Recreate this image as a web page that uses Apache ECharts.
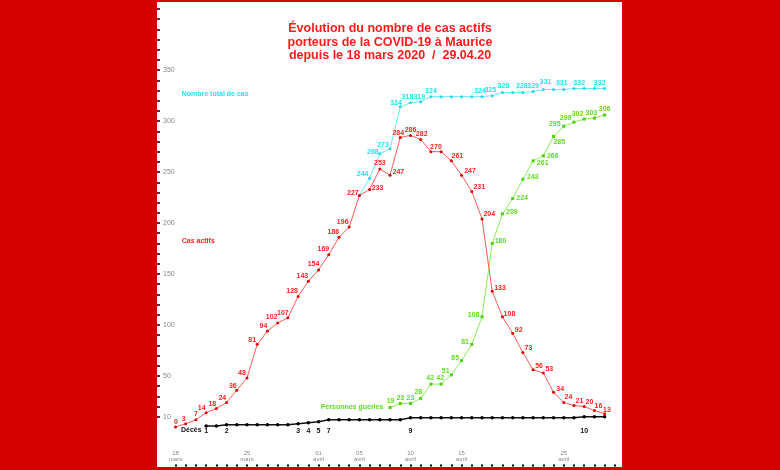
<!DOCTYPE html>
<html><head><meta charset="utf-8">
<script src="https://cdn.jsdelivr.net/npm/echarts@6/dist/echarts.min.js"></script>
<style>
html,body{margin:0;padding:0;background:#d40000;width:780px;height:470px;overflow:hidden}
#panel{position:absolute;left:157px;top:2px;width:465px;height:465px;background:#fff}
#chart{position:absolute;left:0;top:0;width:780px;height:470px}
</style></head><body>
<div id="panel"></div><div id="chart"></div>
<script>
// x = day index counted from 18 mars 2020
const xTickIdx = [0, 7, 14, 18, 23, 28, 38];
const xTickText = ['18\nmars', '25\nmars', '01\navril', '05\navril', '10\navril', '15\navril', '25\navril'];
const yTickLabels = [10, 50, 100, 150, 200, 250, 300, 350];

const activeStart = 0;
const activeCases = [0,3,7,14,18,24,36,48,81,94,102,107,128,143,154,169,186,196,227,233,253,247,284,286,282,270,270,261,247,231,204,133,108,92,73,56,53,34,24,21,20,16,13];

const totalStart = 18;
const totalCases = [227,244,268,273,314,318,319,324,324,324,324,324,324,325,328,328,328,329,331,331,331,332,332,332,332];

const recoveredStart = 21;
const recovered = [19,23,23,28,42,42,51,65,81,108,180,209,224,243,261,266,285,295,299,302,303,306];

const deathsStart = 3;
const deaths = [1,1,2,2,2,2,2,2,2,3,4,5,7,7,7,7,7,7,7,7,9,9,9,9,9,9,9,9,9,9,9,9,9,9,9,9,9,10,10,10];
const deathLabelDays = [3,5,12,13,14,15,23,40];

// label placement (style): day index -> [dx, dy] of label centre from the point
const activeLabelPos = {0:[0.5,-5],1:[-2,-4.5],2:[0,-5.5],3:[-4.5,-4.5],4:[-4,-4.7],5:[-4.3,-4.7],6:[-4,-4.5],7:[-5,-5],8:[-5,-4.5],9:[-4,-5],10:[-6,-5.5],11:[-5,-4.5],12:[-6,-5.5],13:[-6,-4.7],14:[-5,-5.5],15:[-5.4,-5.5],16:[-5.6,-5],17:[-6.5,-5],18:[-6.5,-2.5],19:[8,-1],20:[0,-6],21:[8.3,-3.3],22:[-2,-4.6],23:[0,-5.7],24:[1,-5.3],25:[5,-5],27:[6,-4.7],28:[8.4,-4.3],29:[7.5,-4],30:[7.3,-4.7],31:[7.8,-3.3],32:[7,-2.3],33:[6,-3.3],34:[5.5,-4],35:[6,-4],36:[6,-3.4],37:[6.6,-3.3],38:[4.7,-5],39:[5.5,-4.7],40:[5.3,-4.4],41:[4,-4.3],42:[2.3,-3.3]};
const totalLabelPos = {19:[-7,-3.7],20:[-7,-1.5],21:[-7,-3.3],22:[-4.3,-4],23:[-3,-5.4],24:[-1.4,-5],25:[0,-6],30:[-2,-5.7],31:[-2,-6],32:[1,-6.5],34:[-1,-6.5],35:[0,-5.7],36:[2,-7],38:[-2,-6.6],40:[-5,-5.7],42:[-5,-5.7]};
const recoveredLabelPos = {21:[0.5,-6],22:[0,-5.7],23:[0,-5.7],24:[-2.4,-6],25:[-0.7,-5.7],26:[-1,-5.7],27:[-5.7,-3.6],28:[-6.4,-2.3],29:[-6.7,-2.6],30:[-8.4,-1.7],31:[8.3,-2.3],32:[9.4,-2.3],33:[9.4,-1],34:[10,-1.7],35:[9.6,2.3],36:[9.4,0],37:[5.7,5.7],38:[-9,-2],39:[-8.3,-3.6],40:[-6.7,-4.7],41:[-3,-5.4],42:[0,-5.7]};

const FONT = '"Liberation Sans", Arial, sans-serif';

function build(start, values, labelFor) {
  return values.map((v, i) => {
    const d = start + i;
    const off = labelFor(d, v);
    return { value: [d, v], label: off ? { show: true, offset: off } : { show: false } };
  });
}

function lineSeries(name, data, lineColor, labelColor, symbolColor, symbol, size, width) {
  return {
    name, type: 'line', data, clip: false,
    symbol, symbolSize: size, showAllSymbol: true,
    lineStyle: { color: lineColor, width },
    itemStyle: { color: symbolColor },
    label: { show: false, position: 'inside', formatter: p => p.value[1], color: labelColor,
      fontSize: 7, fontWeight: 'bold', fontFamily: FONT, align: 'center', verticalAlign: 'middle' },
    emphasis: { disabled: true }
  };
}

const days = [];
for (let d = 0; d <= 43; d++) days.push(d);
const yTicks = [];
for (let v = 10; v <= 410; v += 10) yTicks.push(v);

const chart = echarts.init(document.getElementById('chart'), null, { renderer: 'canvas' });
chart.setOption({
  animation: false,
  backgroundColor: 'transparent',
  title: {
    text: 'Évolution du nombre de cas actifs\nporteurs de la COVID-19 à Maurice\ndepuis le 18 mars 2020  /  29.04.20',
    left: 'center', top: 17,
    textStyle: { fontSize: 12.5, fontWeight: 'bold', color: '#ff1a1a', lineHeight: 13.5, fontFamily: FONT }
  },
  grid: { left: 157, right: 158, top: 3.9, bottom: 43.1, containLabel: false },
  xAxis: {
    type: 'value', min: -1.81, max: 43.70, offset: 39.5,
    axisLine: { show: false, onZero: false }, splitLine: { show: false },
    axisTick: { show: true, inside: true, length: 2, customValues: days, lineStyle: { color: '#000', width: 2 } },
    axisLabel: { show: true, inside: true, margin: 4, customValues: xTickIdx,
      formatter: v => xTickText[xTickIdx.indexOf(v)] || '',
      fontSize: 6, lineHeight: 6, color: '#888', fontFamily: FONT }
  },
  yAxis: {
    type: 'value', min: 0, max: 415,
    axisLine: { show: false, onZero: false }, splitLine: { show: false },
    axisTick: { show: true, inside: true, length: 3, customValues: yTicks, lineStyle: { color: '#000', width: 1.5 } },
    axisLabel: { show: true, inside: true, margin: 6, customValues: yTickLabels, fontSize: 7, color: '#888', fontFamily: FONT }
  },
  graphic: [
    { type: 'text', left: 181.7, top: 90.3, style: { text: 'Nombre total de cas', fill: '#22e2f0', font: 'bold 7px ' + FONT } },
    { type: 'text', left: 181.7, top: 237.7, style: { text: 'Cas actifs', fill: '#ff2020', font: 'bold 7px ' + FONT } },
    { type: 'text', left: 320.7, top: 403.3, style: { text: 'Personnes guéries', fill: '#5ede1e', font: 'bold 7px ' + FONT } },
    { type: 'text', left: 181, top: 427, style: { text: 'Décès', fill: '#111', font: 'bold 7px ' + FONT } }
  ],
  series: [
    lineSeries('Nombre total de cas', build(totalStart, totalCases, d => totalLabelPos[d]), '#66e8f4', '#22e2f0', '#22d8ea', 'circle', 3, 1),
    lineSeries('Personnes guéries', build(recoveredStart, recovered, d => recoveredLabelPos[d]), '#8cee5a', '#5ede1e', '#4cd012', 'rect', 3, 1),
    lineSeries('Cas actifs', build(activeStart, activeCases, d => activeLabelPos[d]), '#ff5a5a', '#ff2020', '#e00000', 'circle', 3, 1),
    lineSeries('Décès', build(deathsStart, deaths, (d, v) => deathLabelDays.indexOf(d) >= 0 ? [0, 4.3 + v * 1.02] : null), '#111', '#111', '#000', 'circle', 3.5, 1.5)
  ]
});
</script>
</body></html>
